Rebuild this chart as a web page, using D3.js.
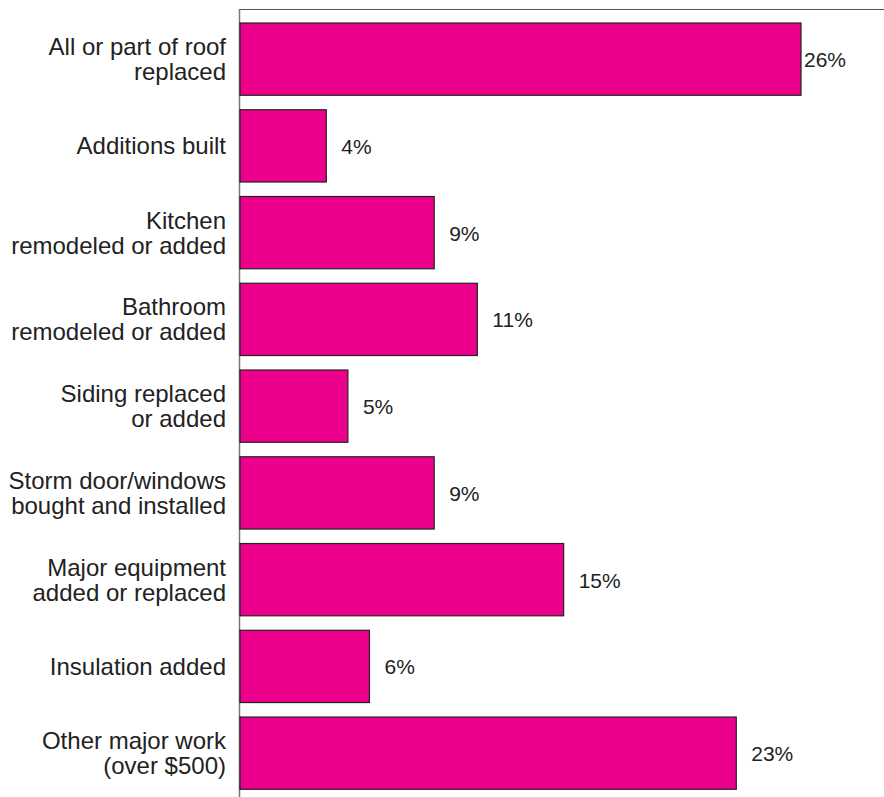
<!DOCTYPE html>
<html>
<head>
<meta charset="utf-8">
<script src="https://cdn.jsdelivr.net/npm/d3@7"></script>
<style>
  body { margin: 0; background: #fff; }
  svg { display: block; }
  .cat { font-family: "Liberation Sans", Arial, sans-serif; font-size: 24px; fill: #222; }
  .val { font-family: "Liberation Sans", Arial, sans-serif; font-size: 21px; fill: #222; }
</style>
</head>
<body>
<svg id="chart"></svg>
<script>
'use strict';

var categories = [
  ['All or part of roof', 'replaced'],
  ['Additions built'],
  ['Kitchen', 'remodeled or added'],
  ['Bathroom', 'remodeled or added'],
  ['Siding replaced', 'or added'],
  ['Storm door/windows', 'bought and installed'],
  ['Major equipment', 'added or replaced'],
  ['Insulation added'],
  ['Other major work', '(over $500)']
];
var values = [26, 4, 9, 11, 5, 9, 15, 6, 23];

var width = 884, height = 797;
var margin = {top: 9, left: 240};

var svg = d3.select('#chart')
  .attr('width', width)
  .attr('height', height);

var data = categories.map(function(c, i) { return {label: c, value: values[i], key: i}; });

var x = d3.scaleLinear()
  .domain([0, 26])
  .range([margin.left, 801]);

var y = d3.scaleBand()
  .domain(data.map(function(d) { return d.key; }))
  .range([23, 789.3])
  .paddingInner(0.167)
  .paddingOuter(0);

// frame lines
svg.append('line')
  .attr('x1', margin.left).attr('x2', width)
  .attr('y1', margin.top + 0.5).attr('y2', margin.top + 0.5)
  .attr('stroke', '#555').attr('stroke-width', 1.2);

svg.append('line')
  .attr('x1', margin.left - 0.5).attr('x2', margin.left - 0.5)
  .attr('y1', margin.top).attr('y2', height)
  .attr('stroke', '#777').attr('stroke-width', 1.5);

var g = svg.append('g');

g.selectAll('.bar')
  .data(data)
  .enter().append('rect').attr('class', 'bar')
    .attr('x', x(0))
    .attr('y', function(d) { return y(d.key); })
    .attr('width', function(d) { return x(d.value) - x(0); })
    .attr('height', y.bandwidth())
    .attr('fill', '#EC008C')
    .attr('stroke', '#222')
    .attr('stroke-width', 1.2);

// value labels; the widest bar keeps its label close so it stays inside the frame
g.selectAll('.val')
  .data(data)
  .enter().append('text').attr('class', 'val')
    .attr('x', function(d) { return x(d.value) + (d.value === d3.max(values) ? 3 : 15); })
    .attr('y', function(d) { return y(d.key) + y.bandwidth() / 2 + 8; })
    .text(function(d) { return d.value + '%'; });

var lineH = 25;
var cats = g.selectAll('.cat')
  .data(data)
  .enter().append('text').attr('class', 'cat')
    .attr('text-anchor', 'end')
    .attr('y', function(d) {
      var c = y(d.key) + y.bandwidth() / 2 + 8.5;
      return c - (d.label.length - 1) * lineH / 2;
    });

cats.selectAll('tspan')
  .data(function(d) { return d.label; })
  .enter().append('tspan')
    .attr('x', 226)
    .attr('dy', function(d, i) { return i === 0 ? 0 : lineH; })
    .text(function(d) { return d; });
</script>
</body>
</html>
